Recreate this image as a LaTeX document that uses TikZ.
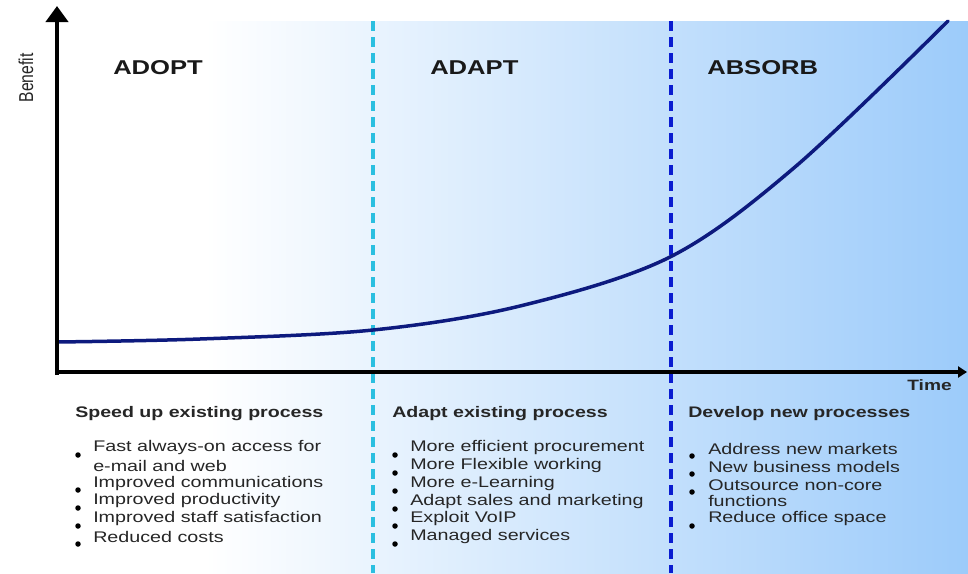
\documentclass[tikz,border=0pt]{standalone}
\usepackage{fontspec}
\usepackage{graphicx}
\setmainfont{Liberation Sans}
\usetikzlibrary{arrows.meta}
\definecolor{bgblue}{HTML}{9CCBFA}
\definecolor{curvenavy}{HTML}{0D1A7E}
\definecolor{cyandash}{HTML}{2BBFE0}
\definecolor{bluedash}{HTML}{0A1CD0}
\definecolor{txtgray}{HTML}{262626}
\tikzset{
  txt/.style={anchor=west, inner sep=0pt, xscale=1.28, text=txtgray},
  heading/.style={txt, text=black!90, font=\fontsize{20}{24}\selectfont\bfseries},
  subhead/.style={txt, font=\fontsize{15.3}{18}\selectfont\bfseries},
  item/.style={txt, font=\fontsize{15.4}{18}\selectfont},
  bul/.style={circle, fill=black, inner sep=0pt, minimum size=5.5pt},
  phase/.style={line width=4pt, dash pattern=on 10pt off 6pt},
  axis/.style={line width=4.5pt}
}
\begin{document}
\begin{tikzpicture}[x=1pt,y=-1pt]
\useasboundingbox (0,0) rectangle (968,573);
\fill[white] (0,0) rectangle (968,573);
\shade[left color=white, right color=bgblue] (205,21) rectangle (968,573);
% phase separators
\draw[phase, cyandash] (373,21) -- (373,573);
\draw[phase, bluedash] (671,21) -- (671,573);
% curve
\draw[curvenavy, line width=3.5pt, line cap=round]
  plot[smooth, tension=0.55] coordinates {(57,342) (200,339) (373,330) (520,306) (670,257) (795,167) (948,21)};
% axes
\coordinate (origin) at (57,372);
\coordinate (ytip) at (57,6);
\coordinate (xtip) at (967,372);
\draw[axis, -{Triangle[length=16pt,width=22pt]}] (57,375) -- (ytip);
\draw[axis, line width=4pt, -{Triangle[length=9pt,width=11pt]}] (55,372) -- (xtip);
% axis labels
\node[inner sep=0pt, rotate=90, text=txtgray, font=\fontsize{15.7}{18}\selectfont] (benefit) at (26,78) {\scalebox{1}[1.28]{Benefit}};
\node[txt, anchor=east, font=\fontsize{15}{18}\selectfont\bfseries] (time) at (952,385) {Time};
% phase headings
\node[heading] (adopt) at (113,68) {ADOPT};
\node[heading] (adapt) at (430,68) {ADAPT};
\node[heading] (absorb) at (707,68) {ABSORB};
% subheadings
\node[subhead] (s1) at (75,414) {Speed up existing process};
\node[subhead] (s2) at (392,414) {Adapt existing process};
\node[subhead] (s3) at (688,414) {Develop new processes};
% column 1
\node[item] (a1) at (93,448) {Fast always-on access for};
\node[item] (a1b) at (93,466) {e-mail and web};
\node[item] (a2) at (93,484) {Improved communications};
\node[item] (a3) at (93,501) {Improved productivity};
\node[item] (a4) at (93,519) {Improved staff satisfaction};
\node[item] (a5) at (93,537) {Reduced costs};
\node[bul] (ba1) at (78,455) {};
\node[bul] (ba2) at (78,490) {};
\node[bul] (ba3) at (78,508) {};
\node[bul] (ba4) at (78,526) {};
\node[bul] (ba5) at (78,544) {};
% column 2
\node[item] (b1) at (410,448) {More efficient procurement};
\node[item] (b2) at (410,466) {More Flexible working};
\node[item] (b3) at (410,484) {More e-Learning};
\node[item] (b4) at (410,502) {Adapt sales and marketing};
\node[item] (b5) at (410,519) {Exploit VoIP};
\node[item] (b6) at (410,537) {Managed services};
\node[bul] (bb1) at (395,455) {};
\node[bul] (bb2) at (395,473) {};
\node[bul] (bb3) at (395,491) {};
\node[bul] (bb4) at (395,509) {};
\node[bul] (bb5) at (395,526) {};
\node[bul] (bb6) at (395,544) {};
% column 3
\node[item] (c1) at (708,449) {Address new markets};
\node[item] (c2) at (708,467) {New business models};
\node[item] (c3) at (708,485) {Outsource non-core};
\node[item] (c3b) at (708,501) {functions};
\node[item] (c4) at (708,519) {Reduce office space};
\node[bul] (bc1) at (692,456) {};
\node[bul] (bc2) at (692,474) {};
\node[bul] (bc3) at (692,492) {};
\node[bul] (bc4) at (692,526) {};
\end{tikzpicture}
\end{document}
